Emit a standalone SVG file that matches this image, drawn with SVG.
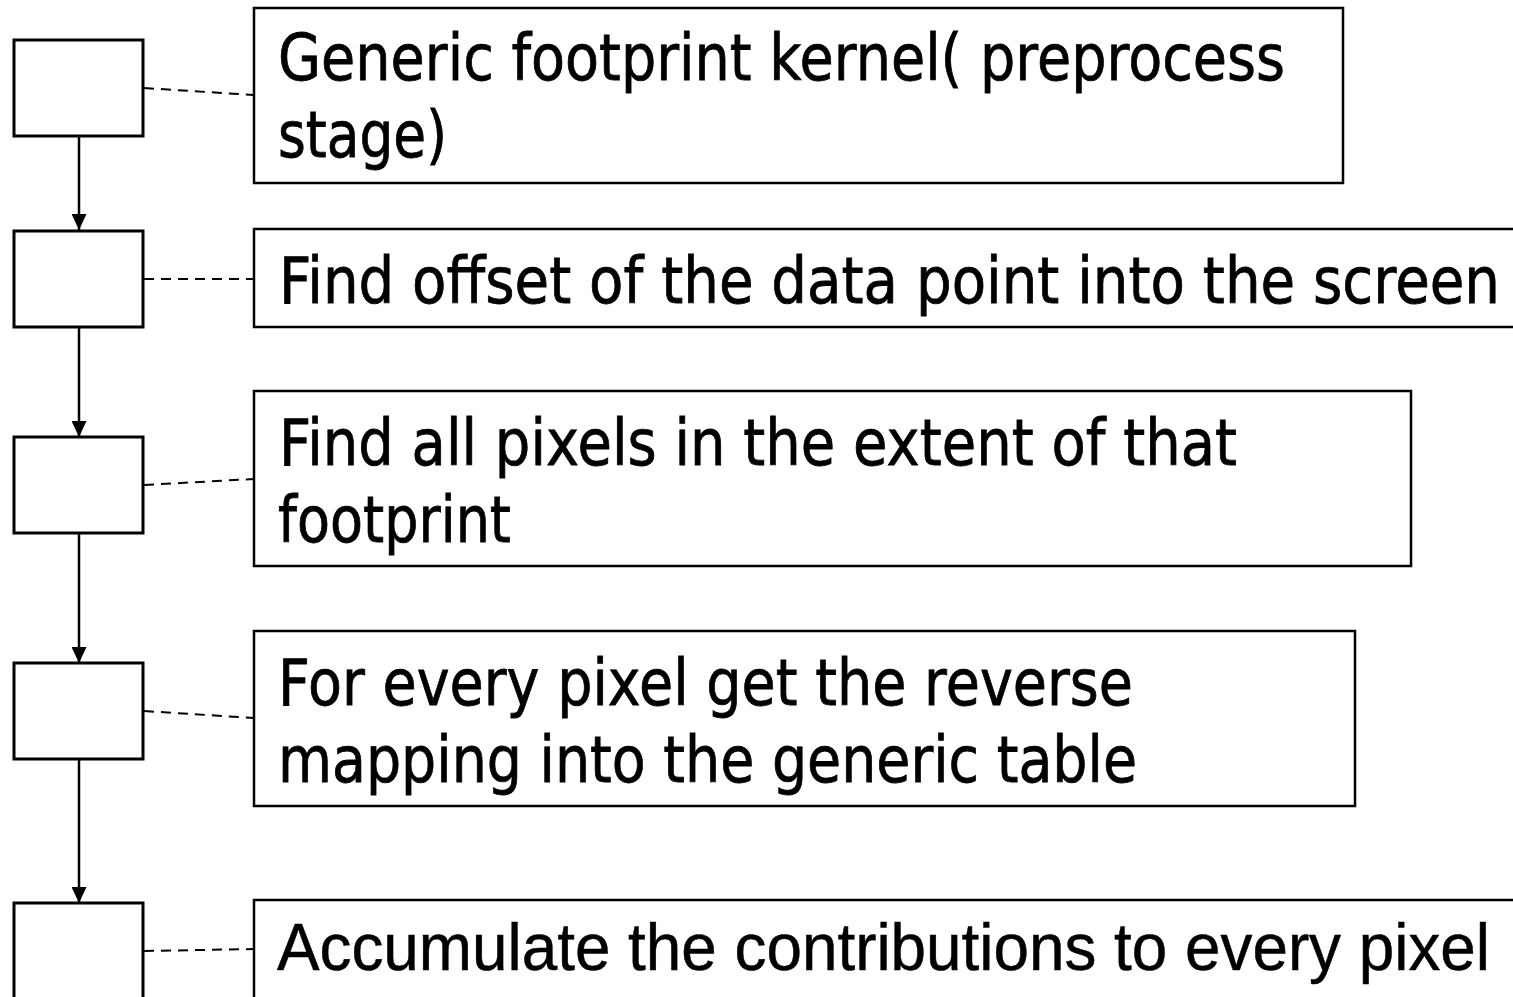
<svg xmlns="http://www.w3.org/2000/svg" width="1513" height="997" viewBox="0 0 1513 997">
  <defs>
    <marker id="arrowhead" viewBox="0 0 16 15" refX="16" refY="7.5" markerWidth="16" markerHeight="15" markerUnits="userSpaceOnUse" orient="auto">
      <path d="M0,0 L16,7.5 L0,15 Z" fill="#000"/>
    </marker>
    <style>
      .step { fill: #fff; stroke: #000; stroke-width: 3; }
      .label-box { fill: #fff; stroke: #000; stroke-width: 2.5; }
      .label { font-family: "DejaVu Sans", "Noto Sans", sans-serif; font-size: 64px; fill: #000; stroke: #000; stroke-width: 0.8; }
      .label-arial { font-family: "Liberation Sans", Arial, sans-serif; font-size: 66px; fill: #000; stroke: #000; stroke-width: 0.5; }
      .flow { stroke: #000; stroke-width: 2.5; fill: none; }
      .leader { stroke: #000; stroke-width: 2; stroke-dasharray: 10 7; fill: none; }
    </style>
  </defs>
  <rect width="1513" height="997" fill="#fff"/>

  <!-- connectors: flow arrows between steps and dashed leaders to labels -->
  <g id="connectors">
    <line class="flow" x1="79" y1="136" x2="79" y2="230" marker-end="url(#arrowhead)"/>
    <line class="flow" x1="79" y1="327" x2="79" y2="437" marker-end="url(#arrowhead)"/>
    <line class="flow" x1="79" y1="533" x2="79" y2="663" marker-end="url(#arrowhead)"/>
    <line class="flow" x1="79" y1="759" x2="79" y2="903" marker-end="url(#arrowhead)"/>
    <line class="leader" x1="144" y1="88" x2="254" y2="95"/>
    <line class="leader" x1="144" y1="279" x2="254" y2="279"/>
    <line class="leader" x1="144" y1="485" x2="254" y2="479"/>
    <line class="leader" x1="144" y1="711" x2="254" y2="718"/>
    <line class="leader" x1="144" y1="951" x2="254" y2="949"/>
  </g>

  <!-- step boxes -->
  <g id="step1"><rect class="step" x="14" y="40" width="129" height="96"/></g>
  <g id="step2"><rect class="step" x="14" y="231" width="129" height="96"/></g>
  <g id="step3"><rect class="step" x="14" y="437" width="129" height="96"/></g>
  <g id="step4"><rect class="step" x="14" y="663" width="129" height="96"/></g>
  <g id="step5"><rect class="step" x="14" y="903" width="129" height="100"/></g>

  <!-- descriptions -->
  <g id="label1">
    <rect class="label-box" x="254" y="8" width="1089" height="175"/>
    <text class="label" x="278" y="80" textLength="1007" lengthAdjust="spacingAndGlyphs">Generic footprint kernel( preprocess</text>
    <text class="label" x="278" y="157" textLength="169" lengthAdjust="spacingAndGlyphs">stage)</text>
  </g>
  <g id="label2">
    <rect class="label-box" x="254" y="229" width="1270" height="98"/>
    <text class="label" x="279" y="303" textLength="1221" lengthAdjust="spacingAndGlyphs">Find offset of the data point into the screen</text>
  </g>
  <g id="label3">
    <rect class="label-box" x="254" y="391" width="1157" height="175"/>
    <text class="label" x="279" y="465" textLength="958" lengthAdjust="spacingAndGlyphs">Find all pixels in the extent of that</text>
    <text class="label" x="278" y="542" textLength="233" lengthAdjust="spacingAndGlyphs">footprint</text>
  </g>
  <g id="label4">
    <rect class="label-box" x="254" y="631" width="1101" height="175"/>
    <text class="label" x="278" y="705" textLength="855" lengthAdjust="spacingAndGlyphs">For every pixel get the reverse</text>
    <text class="label" x="278" y="782" textLength="859" lengthAdjust="spacingAndGlyphs">mapping into the generic table</text>
  </g>
  <g id="label5">
    <rect class="label-box" x="254" y="900" width="1270" height="110"/>
    <text class="label-arial" x="277" y="970" textLength="1213" lengthAdjust="spacingAndGlyphs">Accumulate the contributions to every pixel</text>
  </g>
</svg>
